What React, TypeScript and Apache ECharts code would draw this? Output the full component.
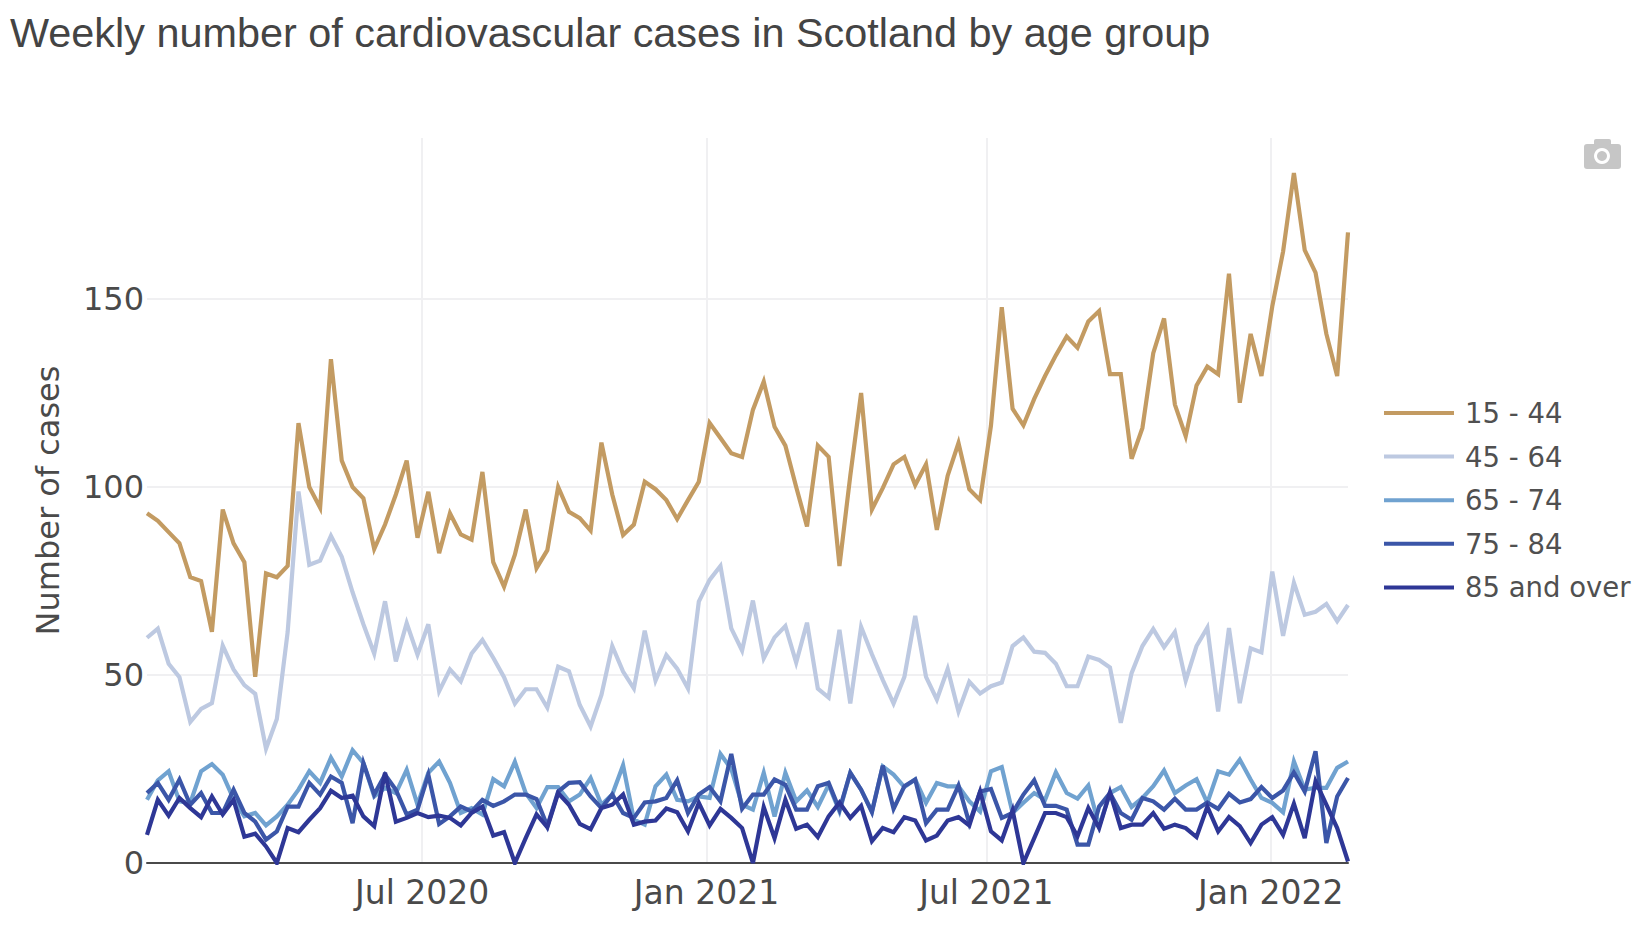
import React, { useEffect, useRef } from "react";
import * as echarts from "echarts";

const titleText = "Weekly number of cardiovascular cases in Scotland by age group";
const yAxisTitle = "Number of cases";
const seriesNames = ["15 - 44", "45 - 64", "65 - 74", "75 - 84", "85 and over"];
const seriesColors = ["#C39B62", "#BDC9E1", "#70A2D0", "#3B56A8", "#2E3796"];

const firstWeek = Date.UTC(2020, 0, 5);
const weekMs = 7 * 24 * 3600 * 1000;
const xTickDates = [Date.UTC(2020, 6, 1), Date.UTC(2021, 0, 1), Date.UTC(2021, 6, 1), Date.UTC(2022, 0, 1)];
const xTickLabels = ["Jul 2020", "Jan 2021", "Jul 2021", "Jan 2022"];
const yTicks = [0, 50, 100, 150];

const age15to44 = [
  93, 91, 88, 85, 76, 75, 61.5, 94, 85, 80, 49.5, 77, 76, 79, 117, 100, 94.5, 134, 107, 100,
  97, 83.5, 90, 98, 107, 86.5, 98.7, 82.4, 93, 87.4, 86, 104, 80, 73.5, 82, 94, 78.4, 83.2, 100, 93.4,
  91.7, 88.4, 111.8, 98, 87.2, 90, 101.4, 99.4, 96.5, 91.5, 96.5, 101.4, 117, 113, 109, 108, 120.5, 128, 116, 111,
  100, 89.5, 111, 108, 79, 103, 125, 94, 99.7, 106, 108, 100.5, 106, 88.6, 103, 111.7, 99.4, 96.5, 116.3, 147.8,
  120.8, 116.4, 123.4, 129.5, 135, 140, 137, 144, 146.8, 130, 130, 107.5, 115.7, 135.6, 144.8, 121.9, 113.5, 127, 132, 130,
  156.7, 122.4, 140.7, 129.5, 148, 162.6, 183.5, 163, 157, 140.7, 129.5, 167.7,
];
const age45to64 = [
  59.9, 62.3, 53, 49.4, 37.5, 41, 42.5, 57.8, 51.5, 47.3, 45, 30.4, 38.3, 61.4, 98.8, 79.3, 80.4, 87, 81.4, 72,
  63.5, 55.7, 69.6, 53.6, 63.8, 55.4, 63.5, 45.7, 51.5, 48.3, 55.7, 59.3, 54.6, 49.4, 42.4, 46.2, 46.2, 41.3, 52.2, 51,
  42, 36.3, 44.7, 57.7, 50.9, 46.4, 61.8, 48.5, 55.3, 51.7, 46.4, 69.5, 75.3, 79, 62.4, 56.5, 69.8, 54.4, 60, 63,
  53.3, 63.9, 46.4, 44, 62, 42.4, 62.8, 55.5, 48.7, 42.4, 49.5, 65.7, 49.5, 43.5, 51.6, 40.3, 48.2, 45.1, 47, 48,
  57.7, 60, 56.2, 55.9, 53, 47, 47, 54.9, 54, 52, 37.3, 50.5, 57.7, 62.2, 57.4, 61.4, 48.5, 57.7, 62.6, 40.3,
  62.5, 42.5, 57.1, 56, 77.5, 60.4, 74.5, 66, 66.8, 68.9, 64.3, 68.6,
];
const age65to74 = [
  16.8, 22, 24.4, 16.4, 16, 24.4, 26.3, 23.5, 17, 12.4, 13.3, 10, 12.4, 15.5, 19.5, 24.4, 21.3, 28, 23, 30,
  26.6, 17.7, 20, 18.6, 24.8, 15.5, 24, 27, 21.3, 13.3, 14.6, 12.9, 22.3, 20.4, 26.9, 18.6, 14.6, 20.2, 20.2, 16.4,
  18.2, 22.6, 15.5, 18.2, 26, 11.5, 10.2, 20.4, 23.5, 16.8, 16.4, 17.7, 17.3, 29, 25, 15.5, 14.2, 24, 12.4, 24,
  16.4, 19.3, 14.9, 20.8, 13.7, 24, 19.5, 13.7, 25.7, 23.5, 20.2, 22.2, 16, 21.3, 20.4, 20.4, 16.4, 13.7, 24.4, 25.5,
  13.3, 16, 18.6, 16.8, 24.1, 18.6, 17.1, 20.6, 9.8, 18.6, 20.2, 14.9, 17.3, 20.4, 24.6, 18.6, 20.6, 22.3, 16, 24.4,
  23.5, 27.5, 22.2, 17.3, 16, 13.5, 27, 19.5, 20, 20, 25.3, 27,
];
const age75to84 = [
  18.6, 21.3, 16.8, 22.2, 15.5, 18.6, 13.3, 13.3, 19.5, 13.3, 11, 6.2, 8.4, 15, 15, 21.3, 18.2, 23, 21.3, 10.6,
  26.6, 18.2, 23.5, 19.5, 12.9, 14.2, 23.5, 10.4, 12.4, 15, 13.7, 16.8, 15.2, 16.4, 18.2, 18.2, 17, 9.8, 19, 21.3,
  21.5, 17.7, 14.6, 18.2, 13.3, 12, 16.1, 16.4, 17.3, 22, 13.3, 18.2, 20.2, 16.4, 29, 14.4, 18.2, 18.2, 22.2, 20.8,
  14.2, 14.2, 20.4, 21.3, 14.2, 24, 19.5, 13.5, 25.9, 14.4, 20.4, 22.2, 10.6, 14.2, 14.2, 20.6, 10.6, 19, 19.7, 12,
  13.3, 18.2, 22, 15.2, 15.2, 14.2, 4.9, 4.9, 15, 18.6, 13.3, 11.5, 17.3, 16.4, 14.2, 17.1, 14.2, 14.2, 16.1, 14.4,
  18.4, 16.1, 17, 20.2, 17.3, 19.3, 24.1, 19, 29.7, 5.3, 17.7, 22.6,
];
const age85plus = [
  7.5, 16.8, 12.6, 17.3, 14.6, 12.2, 17.7, 12.9, 16.8, 7, 7.8, 4.4, 0, 9.3, 8.2, 11.5, 14.6, 19.2, 17.3, 17.9,
  12.4, 9.8, 24, 11, 12, 13.3, 12.2, 12.6, 12, 10, 13.3, 15, 7.3, 8.2, 0, 6.6, 12.9, 9.5, 18.6, 15.5,
  10.4, 9, 14.6, 15.5, 18.2, 10.2, 11, 11.3, 14.5, 13.5, 8.4, 16, 10, 14.4, 12, 9.3, 0, 14.9, 6.6, 16.8,
  9.1, 10.2, 6.9, 12.4, 16.1, 12, 15.2, 5.8, 9.3, 8.2, 12.2, 11.3, 6, 7.3, 11.3, 12.2, 10, 19, 8.4, 6,
  14, 0, 6.6, 13.3, 13.3, 12.2, 7.1, 14.6, 9.3, 18.8, 9.3, 10.2, 10.2, 13.3, 9.1, 10.2, 9.3, 6.9, 15, 8.4,
  12.2, 9.8, 5.3, 10.2, 12.2, 7.5, 15.8, 6.6, 21.7, 15.5, 9.3, 0.4,
];
const allSeries = [age15to44, age45to64, age65to74, age75to84, age85plus];

export default function App() {
  const ref = useRef<HTMLDivElement>(null);
  useEffect(() => {
    document.body.style.margin = "0";
    const chart = echarts.init(ref.current!, undefined, { renderer: "svg" });
    const axisFont = "'DejaVu Sans', Verdana, sans-serif";
    chart.setOption({
      animation: false,
      backgroundColor: "#ffffff",
      title: {
        text: titleText,
        left: 10,
        top: 12,
        padding: 0,
        textStyle: { fontFamily: "'Liberation Sans', Arial, sans-serif", fontSize: 41.4, fontWeight: "normal", color: "#444444" },
      },
      legend: {
        orient: "vertical",
        left: 1379,
        top: 394,
        icon: "rect",
        itemWidth: 70,
        itemHeight: 4,
        itemGap: 15.6,
        data: seriesNames,
        textStyle: { fontFamily: axisFont, fontSize: 27.5, color: "#505050", padding: [0, 0, 0, 6] },
      },
      grid: { left: 147, right: 285, top: 138, bottom: 63, containLabel: false },
      xAxis: {
        type: "value",
        min: firstWeek,
        max: firstWeek + (age15to44.length - 1) * weekMs,
        axisLine: { show: true, onZero: false, lineStyle: { color: "#4a4a4a", width: 2 } },
        axisTick: { show: false, customValues: xTickDates },
        axisLabel: {
          customValues: xTickDates,
          margin: 13,
          hideOverlap: false,
          fontFamily: axisFont,
          fontSize: 33,
          color: "#4a4a4a",
          formatter: (v: number) => xTickLabels[xTickDates.indexOf(v)] ?? "",
        },
        splitLine: { show: true, lineStyle: { color: "#f0f0f2", width: 2 } },
      },
      yAxis: {
        type: "value",
        min: 0,
        max: 192.8,
        name: yAxisTitle,
        nameLocation: "middle",
        nameGap: 83,
        nameRotate: 90,
        nameTextStyle: { fontFamily: axisFont, fontSize: 32, color: "#4a4a4a" },
        axisLine: { show: false },
        axisTick: { show: false, customValues: yTicks },
        axisLabel: {
          customValues: yTicks,
          margin: 3,
          fontFamily: axisFont,
          fontSize: 32,
          color: "#4a4a4a",
        },
        splitLine: { show: true, lineStyle: { color: "#f0f0f2", width: 2 } },
      },
      series: seriesNames.map((name, s) => ({
        name,
        type: "line",
        showSymbol: false,
        symbol: "none",
        lineStyle: { width: 4.2, color: seriesColors[s], join: "miter" },
        itemStyle: { color: seriesColors[s] },
        data: allSeries[s].map((v, i) => [firstWeek + i * weekMs, v]),
      })),
      graphic: [
        {
          type: "group",
          silent: true,
          children: [
            { type: "rect", shape: { x: 1584, y: 144, width: 37, height: 25, r: 3 }, style: { fill: "#c6c6c6" } },
            { type: "rect", shape: { x: 1594, y: 139, width: 17, height: 7, r: 2 }, style: { fill: "#c6c6c6" } },
            { type: "circle", shape: { cx: 1602, cy: 156, r: 8 }, style: { fill: "#ffffff" } },
            { type: "circle", shape: { cx: 1602, cy: 156, r: 5 }, style: { fill: "#c6c6c6" } },
          ],
        },
      ],
    });
    return () => chart.dispose();
  }, []);
  return <div ref={ref} style={{ position: "absolute", left: 0, top: 0, width: 1633, height: 926 }} />;
}
